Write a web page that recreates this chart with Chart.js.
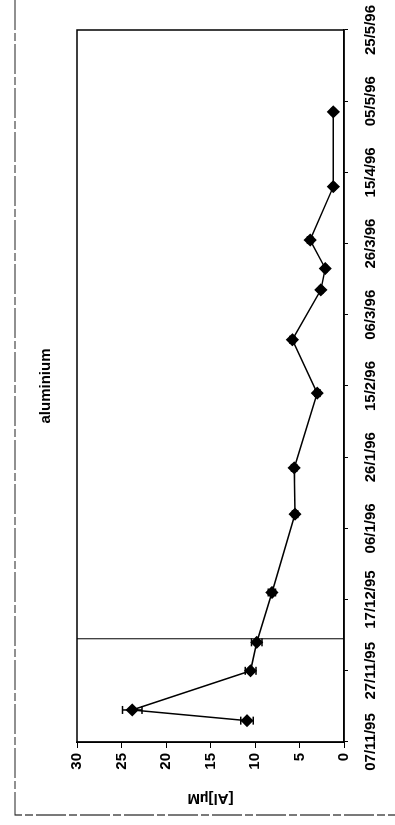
<!DOCTYPE html>
<html>
<head>
<meta charset="utf-8">
<script src="https://cdn.jsdelivr.net/npm/chart.js@4/dist/chart.umd.min.js"></script>
<style>
  html, body { margin: 0; padding: 0; background: #fff; overflow: hidden; }
  #wrap {
    position: absolute; left: 0; top: 0;
    width: 825px; height: 395px;
    transform-origin: 0 0;
    transform: translate(0, 825px) rotate(-90deg); /* the scan is turned on its side */
  }
</style>
</head>
<body>
<div id="wrap"><canvas id="alChart" width="825" height="395"></canvas></div>
<script>
// sampling dates and measured [Al] (uM) with error bars
var sampleDates = ['13/11/95', '16/11/95', '27/11/95', '05/12/95', '19/12/95', '10/01/96', '23/01/96',
                   '13/02/96', '28/02/96', '13/03/96', '19/03/96', '27/03/96', '11/04/96', '02/05/96'];
var alValues = [10.9, 23.8, 10.5, 9.8, 8.1, 5.5, 5.6, 3.0, 5.8, 2.6, 2.1, 3.8, 1.2, 1.2];
var alErrors = [0.7, 1.1, 0.6, 0.6, 0.4, 0.3, 0.3, 0.3, 0.3, 0.2, 0.2, 0.3, 0.2, 0.2];

// date axis tick labels (every 20 days from 07/11/95)
var dateTicks = ['07/11/95', '27/11/95', '17/12/95', '06/1/96', '26/1/96', '15/2/96',
                 '06/3/96', '26/3/96', '15/4/96', '05/5/96', '25/5/96'];
var startDate = '07/11/95';
var markerDate = '06/12/95';
var yTicks = [0, 5, 10, 15, 20, 25, 30];

function dayNumber(s) {
    var p = s.split('/');
    return Date.UTC(1900 + parseInt(p[2], 10), parseInt(p[1], 10) - 1, parseInt(p[0], 10)) / 86400000;
}
var day0 = dayNumber(startDate);

var points = sampleDates.map(function (d, i) {
    return { x: dayNumber(d) - day0, y: alValues[i] };
});
var markerX = dayNumber(markerDate) - day0;

var labelFont = { family: 'Liberation Sans, Arial, sans-serif', size: 15, weight: 'bold' };

// outer frame of the scanned page + box round the plot
var framePlugin = {
    id: 'frame',
    beforeDraw: function (chart) {
        var ctx = chart.ctx;
        ctx.save();
        ctx.strokeStyle = '#222';
        ctx.lineWidth = 1.2;
        ctx.setLineDash([30, 3, 8, 3]);
        ctx.beginPath();
        ctx.moveTo(825, 15);
        ctx.lineTo(10, 15);
        ctx.lineTo(10, 395);
        ctx.stroke();
        ctx.restore();
    },
    afterDatasetsDraw: function (chart) {
        var ctx = chart.ctx, a = chart.chartArea;
        ctx.save();
        ctx.strokeStyle = '#000';
        ctx.lineWidth = 1.5;
        ctx.strokeRect(a.left, a.top, a.right - a.left, a.bottom - a.top);
        ctx.restore();
    }
};

// error bars drawn through the chart's own scales
var errorBarPlugin = {
    id: 'errorBars',
    afterDatasetsDraw: function (chart) {
        var ctx = chart.ctx;
        var xs = chart.scales.x, ys = chart.scales.y;
        ctx.save();
        ctx.strokeStyle = '#000';
        ctx.lineWidth = 1.5;
        points.forEach(function (p, i) {
            var px = xs.getPixelForValue(p.x);
            var top = ys.getPixelForValue(p.y + alErrors[i]);
            var bot = ys.getPixelForValue(p.y - alErrors[i]);
            ctx.beginPath();
            ctx.moveTo(px, top); ctx.lineTo(px, bot);
            ctx.moveTo(px - 4, top); ctx.lineTo(px + 4, top);
            ctx.moveTo(px - 4, bot); ctx.lineTo(px + 4, bot);
            ctx.stroke();
        });
        ctx.restore();
    }
};

var ctx = document.getElementById('alChart').getContext('2d');
var chart = new Chart(ctx, {
    type: 'scatter',
    data: {
        datasets: [{
            label: 'aluminium',
            data: points,
            showLine: true,
            borderColor: '#000',
            backgroundColor: '#000',
            borderWidth: 1.5,
            pointStyle: 'rectRot',
            pointRadius: 5.5,
            pointHoverRadius: 5.5
        }, {
            label: 'marker',
            data: [{ x: markerX, y: yTicks[0] }, { x: markerX, y: yTicks[yTicks.length - 1] }],
            showLine: true,
            borderColor: '#000',
            borderWidth: 1,
            pointRadius: 0
        }]
    },
    options: {
        responsive: false,
        animation: false,
        layout: { padding: { left: 0, right: 30, top: 0, bottom: 0 } },
        plugins: {
            legend: { display: false },
            tooltip: { enabled: false },
            title: {
                display: true,
                fullSize: false,
                text: 'aluminium',
                color: '#000',
                font: labelFont,
                padding: { top: 37, bottom: 22 }
            }
        },
        scales: {
            x: {
                type: 'linear',
                min: 0,
                max: 200,
                afterFit: function (s) {
                    s.height = 51;
                    s.paddingLeft = 0;
                    s.paddingRight = 0;
                },
                afterBuildTicks: function (s) {
                    s.ticks = dateTicks.map(function (t, i) { return { value: i * 20 }; });
                },
                ticks: {
                    color: '#000',
                    padding: 14,
                    maxRotation: 0,
                    autoSkip: false,
                    font: labelFont,
                    callback: function (v) { return dateTicks[Math.round(v / 20)]; }
                },
                grid: { drawOnChartArea: false, drawTicks: true, tickLength: 4, color: '#000' },
                border: { display: true, color: '#000', width: 1.5 }
            },
            y: {
                min: 0,
                max: 30,
                afterFit: function (s) { s.width = 83; },
                afterBuildTicks: function (s) {
                    s.ticks = yTicks.map(function (v) { return { value: v }; });
                },
                ticks: {
                    color: '#000',
                    padding: 5,
                    font: labelFont
                },
                grid: { drawOnChartArea: false, drawTicks: true, tickLength: 6, color: '#000' },
                border: { display: true, color: '#000', width: 1.5 },
                title: {
                    display: true,
                    text: '[Al]µM',
                    color: '#000',
                    padding: { top: 18, bottom: 0 },
                    font: labelFont
                }
            }
        }
    },
    plugins: [framePlugin, errorBarPlugin]
});
</script>
</body>
</html>
